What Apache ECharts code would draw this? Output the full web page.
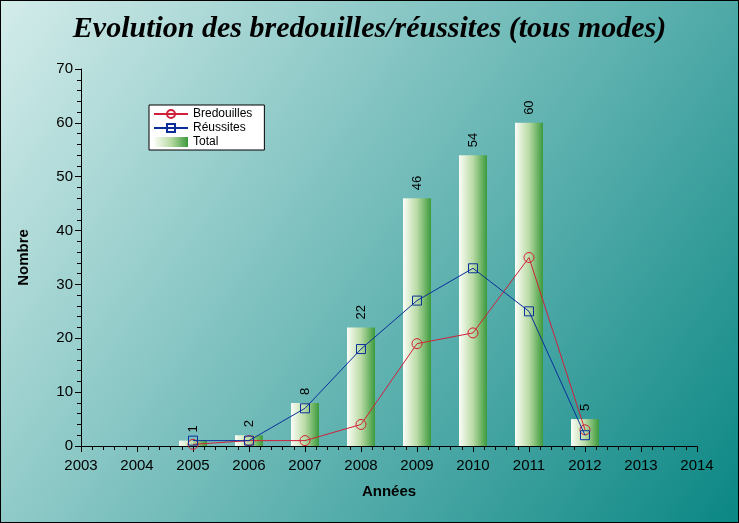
<!DOCTYPE html>
<html lang="fr">
<head>
    <meta charset="UTF-8">
    <title>bredouilles</title>
    <script src="https://cdn.jsdelivr.net/npm/echarts@6/dist/echarts.min.js"></script>
    <style>body{margin:0;} #c{width:739px;height:523px;box-sizing:border-box;border:1px solid #000;}</style>
</head>
<body>
<div id="c"></div>
<script type="text/javascript">
    var annees = [2005, 2006, 2007, 2008, 2009, 2010, 2011, 2012];
    var bredouilles = [0.3, 1, 1, 4, 19, 21, 35, 3];
    var reussites = [1, 1, 7, 18, 27, 33, 25, 2];
    var total = [1, 2, 8, 22, 46, 54, 60, 5];
    function pts(arr) { return annees.map(function (a, i) { return [a, arr[i]]; }); }

    var chart = echarts.init(document.getElementById('c'));
    chart.setOption({
        backgroundColor: new echarts.graphic.LinearGradient(0, 0, 1, 1, [
            {offset: 0, color: '#d3ecea'}, {offset: 0.5, color: '#6fbab8'}, {offset: 1, color: '#0b8784'}
        ]),
        title: {
            text: 'Evolution des bredouilles/réussites (tous modes)', left: 'center', top: 8,
            textStyle: {fontFamily: 'Liberation Serif', fontStyle: 'italic', fontWeight: 'bold', fontSize: 30, color: '#000'}
        },
        legend: {
            orient: 'vertical', left: 148, top: 104, itemGap: 2, itemWidth: 34, itemHeight: 10,
            backgroundColor: '#fff', borderColor: '#000', borderWidth: 1, padding: [3, 12, 2, 4],
            textStyle: {fontFamily: 'Liberation Sans', fontSize: 12, color: '#000'},
            data: ['Bredouilles', 'Réussites', {name: 'Total', icon: 'rect'}]
        },
        grid: {left: 80, right: 41, top: 68, bottom: 76},
        xAxis: {
            type: 'value', min: 2003, max: 2014, interval: 1, name: 'Années', nameLocation: 'middle', nameGap: 38,
            nameTextStyle: {fontFamily: 'Liberation Sans', fontWeight: 'bold', fontSize: 15, color: '#000'},
            axisLine: {lineStyle: {color: '#000'}}, axisTick: {length: 6, lineStyle: {color: '#000'}},
            minorTick: {show: true, splitNumber: 5, length: 4, lineStyle: {color: '#000'}},
            axisLabel: {fontFamily: 'Liberation Sans', fontSize: 15, color: '#000', margin: 12,
                formatter: function (v) { return String(v); }},
            splitLine: {show: false}
        },
        yAxis: {
            type: 'value', min: 0, max: 70, interval: 10, name: 'Nombre', nameLocation: 'middle', nameGap: 50,
            nameTextStyle: {fontFamily: 'Liberation Sans', fontWeight: 'bold', fontSize: 15, color: '#000'},
            axisLine: {show: true, lineStyle: {color: '#000'}}, axisTick: {show: true, length: 6, lineStyle: {color: '#000'}},
            minorTick: {show: true, splitNumber: 5, length: 4, lineStyle: {color: '#000'}},
            axisLabel: {fontFamily: 'Liberation Sans', fontSize: 15, color: '#000'},
            splitLine: {show: false}
        },
        series: [
            {
                name: 'Total', type: 'bar', barWidth: 28, data: pts(total),
                itemStyle: {color: new echarts.graphic.LinearGradient(0, 0, 1, 0, [
                    {offset: 0, color: '#fbfdf7'}, {offset: 0.5, color: '#b9dba5'}, {offset: 1, color: '#3c9a3c'}])},
                label: {show: true, position: 'top', rotate: 90, align: 'left', verticalAlign: 'middle', distance: 8,
                    fontFamily: 'Liberation Sans', fontSize: 13, color: '#000', formatter: function (p) { return p.value[1]; }}
            },
            {
                name: 'Bredouilles', type: 'line', data: pts(bredouilles), symbol: 'circle', symbolSize: 10,
                lineStyle: {color: '#d0203a', width: 1},
                itemStyle: {color: 'rgba(0,0,0,0)', borderColor: '#d0203a', borderWidth: 1}, z: 3
            },
            {
                name: 'Réussites', type: 'line', data: pts(reussites), symbol: 'rect', symbolSize: 9,
                lineStyle: {color: '#0a2f9a', width: 1},
                itemStyle: {color: 'rgba(0,0,0,0)', borderColor: '#0a2f9a', borderWidth: 1}, z: 4
            }
        ]
    });
</script>
</body>
</html>
